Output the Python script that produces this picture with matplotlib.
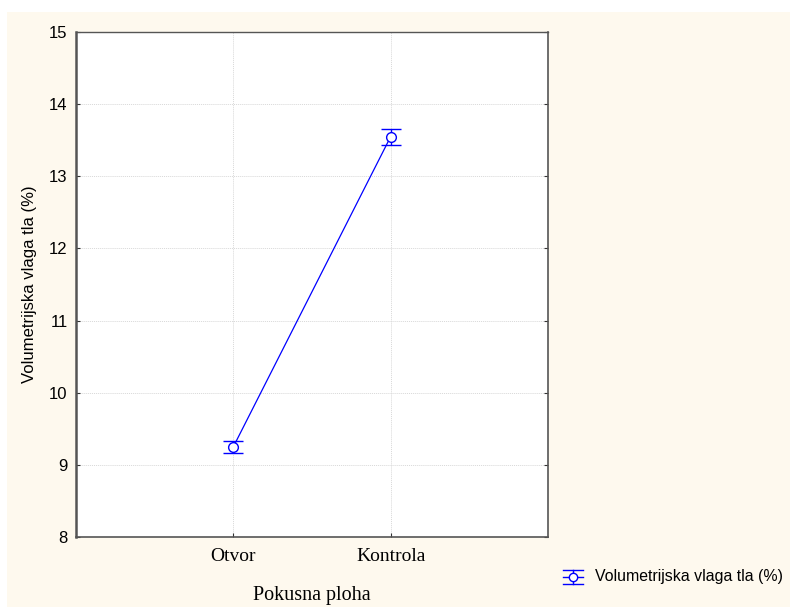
import matplotlib
matplotlib.use("Agg")
import matplotlib.pyplot as plt
from matplotlib.patches import Rectangle
from matplotlib.lines import Line2D

categories = ["Otvor", "Kontrola"]
means = [9.25, 13.55]
errors = [0.08, 0.11]
yticks = [8, 9, 10, 11, 12, 13, 14, 15]
series_label = "Volumetrijska vlaga tla (%)"
xlabel = "Pokusna ploha"
ylabel = "Volumetrijska vlaga tla (%)"

W, H = 790, 607
fig = plt.figure(figsize=(W / 100, H / 100), dpi=100)
fig.patch.set_facecolor("white")
bg = Rectangle((7 / W, 0), 1 - 7 / W, 1 - 12 / H, transform=fig.transFigure,
               facecolor="#fef9ee", edgecolor="none", zorder=-10)
fig.patches.append(bg)

ax = fig.add_axes([76 / W, 1 - 537 / H, (548 - 76) / W, (537 - 32) / H])
ax.set_facecolor("white")
xs = list(range(1, len(categories) + 1))
ax.errorbar(xs, means, yerr=errors, color="#0000ff", lw=0.9, marker="o",
            markersize=7, markerfacecolor="white", markeredgecolor="#0000ff",
            markeredgewidth=1.0, capsize=7, capthick=1.0, elinewidth=1.0, zorder=5)
ax.set_xlim(0, 3)
ax.set_ylim(8, 15)
ax.set_xticks(xs)
ax.set_xticklabels(categories, fontfamily="Liberation Serif", fontsize=14)
ax.set_yticks(yticks)
ax.set_yticklabels([str(v) for v in yticks], fontfamily="Liberation Sans", fontsize=12)
ax.tick_params(direction="in", length=3, width=0.8, colors="#333333", labelcolor="black")
ax.tick_params(axis="y", right=True, pad=6)
ax.tick_params(axis="x", pad=8)
ax.grid(True, color="#d8d8d8", linestyle=(0, (1, 1)), lw=0.7)
ax.set_axisbelow(True)
for s in ax.spines.values():
    s.set_color("#555555")
    s.set_linewidth(1.2)
ax.spines["left"].set_linewidth(1.8)
ax.spines["top"].set_linewidth(1.0)

ax.set_xlabel(xlabel, fontfamily="Liberation Serif", fontsize=14.5, labelpad=15)
ax.set_ylabel(ylabel, fontfamily="Liberation Sans", fontsize=12, labelpad=9)

# legend entry
fig.text(595 / W, 1 - 577 / H, series_label, fontfamily="Liberation Sans",
         fontsize=11.4, va="center", ha="left")
lx0, lx1, ly = 563 / W, 583 / W, 1 - 577 / H
dy = 7 / H
for yy in (ly, ly + dy, ly - dy):
    fig.lines.append(Line2D([lx0, lx1], [yy, yy], transform=fig.transFigure, color="#0000ff", lw=1.0))
fig.lines.append(Line2D([(lx0 + lx1) / 2] * 2, [ly - dy, ly + dy], transform=fig.transFigure, color="#0000ff", lw=1.0))
fig.lines.append(Line2D([(lx0 + lx1) / 2], [ly], transform=fig.transFigure, color="#0000ff",
                        marker="o", markersize=6, markerfacecolor="white", markeredgewidth=1.0))

fig.savefig("out.png", dpi=100)
